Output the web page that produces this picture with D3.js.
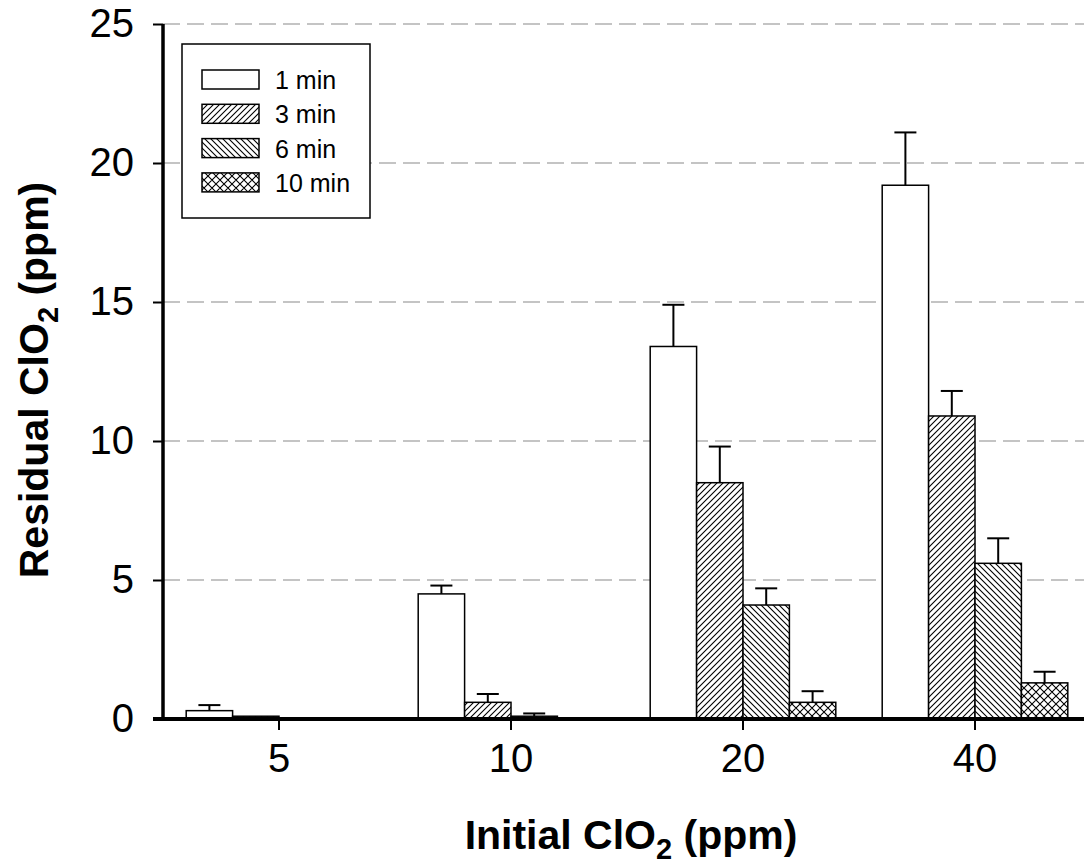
<!DOCTYPE html>
<html>
<head>
<meta charset="utf-8">
<script src="https://cdn.jsdelivr.net/npm/d3@7"></script>
<style>
  html, body { margin: 0; padding: 0; background: #fff; }
  svg { display: block; }
  text { font-family: Arial, "Liberation Sans", sans-serif; fill: #000; }
</style>
</head>
<body>
<svg id="chart" width="1084" height="867"></svg>
<script>
// Initial ClO2 concentrations (ppm) on the x axis
const groups = ["5", "10", "20", "40"];
// Contact times, one bar per time in each group
const times = ["1 min", "3 min", "6 min", "10 min"];
// Residual ClO2 (ppm), mean per contact time
const res1min  = [0.3, 4.5, 13.4, 19.2];
const res3min  = [0.1, 0.6, 8.5, 10.9];
const res6min  = [0.0, 0.1, 4.1, 5.6];
const res10min = [0.0, 0.0, 0.6, 1.3];
// Upper error (standard deviation) per contact time
const err1min  = [0.2, 0.3, 1.5, 1.9];
const err3min  = [0.0, 0.3, 1.3, 0.9];
const err6min  = [0.0, 0.1, 0.6, 0.9];
const err10min = [0.0, 0.0, 0.4, 0.4];
const yTicks = [0, 5, 10, 15, 20, 25];

const values = [res1min, res3min, res6min, res10min];
const errors = [err1min, err3min, err6min, err10min];
const fills = ["#fff", "url(#hatchFwd)", "url(#hatchBack)", "url(#hatchCross)"];

const rows = [];
groups.forEach((g, gi) => {
  times.forEach((t, ti) => {
    rows.push({ group: g, time: t, value: values[ti][gi], err: errors[ti][gi], fill: fills[ti] });
  });
});

const svg = d3.select("#chart");
const plotL = 163, plotR = 1091, plotT = 24, plotB = 719;

const x0 = d3.scaleBand().domain(groups).range([plotL, plotR]).paddingInner(0).paddingOuter(0);
const x1 = d3.scaleBand().domain(times).range([0, x0.bandwidth()]).paddingInner(0).paddingOuter(0.5);
const y = d3.scaleLinear().domain([0, 25]).range([plotB, plotT]);

// hatch patterns
const defs = svg.append("defs");
function hatch(id, size, paths) {
  const p = defs.append("pattern").attr("id", id).attr("patternUnits", "userSpaceOnUse")
    .attr("width", size).attr("height", size);
  p.append("rect").attr("width", size).attr("height", size).attr("fill", "#fff");
  p.append("path").attr("d", paths).attr("stroke", "#000").attr("stroke-width", 1.1)
    .attr("fill", "none");
}
hatch("hatchFwd", 6, "M-1,7 L7,-1 M-4,4 L4,-4 M2,10 L10,2");
hatch("hatchBack", 6, "M-1,-1 L7,7 M-4,2 L4,10 M2,-4 L10,4");
hatch("hatchCross", 8, "M0,0 L8,8 M-4,4 L4,12 M4,-4 L12,4 M0,8 L8,0 M-4,4 L4,-4 M4,12 L12,4");

// dashed horizontal grid
svg.append("g").selectAll("line")
  .data(yTicks.filter(d => d > 0))
  .join("line")
  .attr("x1", plotL).attr("x2", 1084)
  .attr("y1", d => y(d)).attr("y2", d => y(d))
  .attr("stroke", "#c4c4c4").attr("stroke-width", 2)
  .attr("stroke-dasharray", "17,7");

// bars
const bars = svg.append("g");
bars.selectAll("rect")
  .data(rows.filter(d => d.value > 0))
  .join("rect")
  .attr("x", d => x0(d.group) + x1(d.time))
  .attr("y", d => y(d.value))
  .attr("width", x1.bandwidth())
  .attr("height", d => y(0) - y(d.value))
  .attr("fill", d => d.fill)
  .attr("stroke", "#000").attr("stroke-width", 1.5);

// error bars (upper half)
const eb = svg.append("g").attr("stroke", "#000").attr("stroke-width", 2);
rows.filter(d => d.err > 0).forEach(d => {
  const cx = x0(d.group) + x1(d.time) + x1.bandwidth() / 2;
  eb.append("line").attr("x1", cx).attr("x2", cx).attr("y1", y(d.value)).attr("y2", y(d.value + d.err));
  eb.append("line").attr("x1", cx - 11).attr("x2", cx + 11).attr("y1", y(d.value + d.err)).attr("y2", y(d.value + d.err));
});

// y axis
const yAxis = svg.append("g").attr("transform", `translate(${plotL},0)`)
  .call(d3.axisLeft(y).tickValues(yTicks).tickSize(10).tickPadding(19).tickFormat(d3.format("d")));
yAxis.select(".domain").attr("stroke-width", 3.5).attr("d", `M0,${plotT}V${plotB + 1}`);
yAxis.selectAll(".tick line").attr("stroke-width", 2);
yAxis.selectAll(".tick text").attr("font-size", 40).attr("font-family", "Arial, 'Liberation Sans', sans-serif");

// x axis
const xAxis = svg.append("g").attr("transform", `translate(0,${plotB})`)
  .call(d3.axisBottom(x0).tickSize(11).tickPadding(14));
xAxis.select(".domain").attr("stroke-width", 4).attr("d", `M${plotL - 10},0H${plotR}`);
xAxis.selectAll(".tick line").attr("stroke-width", 2);
xAxis.selectAll(".tick text").attr("font-size", 40).attr("font-family", "Arial, 'Liberation Sans', sans-serif");

// axis titles
const xt = svg.append("text").attr("x", 631).attr("y", 849)
  .attr("text-anchor", "middle").attr("font-size", 41).attr("font-weight", "bold");
xt.append("tspan").text("Initial ClO");
xt.append("tspan").text("2").attr("font-size", 29).attr("dy", 10);
xt.append("tspan").text(" (ppm)").attr("dy", -10);

const yt = svg.append("text").attr("transform", "translate(48,380) rotate(-90)")
  .attr("text-anchor", "middle").attr("font-size", 41).attr("font-weight", "bold");
yt.append("tspan").text("Residual ClO");
yt.append("tspan").text("2").attr("font-size", 29).attr("dy", 10);
yt.append("tspan").text(" (ppm)").attr("dy", -10);

// legend
const lg = svg.append("g");
lg.append("rect").attr("x", 182).attr("y", 44).attr("width", 188).attr("height", 174)
  .attr("fill", "#fff").attr("stroke", "#000").attr("stroke-width", 1.5);
times.forEach((t, i) => {
  const ty = 70 + i * 34.3;
  lg.append("rect").attr("x", 202).attr("y", ty).attr("width", 57).attr("height", 19)
    .attr("fill", fills[i]).attr("stroke", "#000").attr("stroke-width", 1.5);
  lg.append("text").attr("x", 275).attr("y", ty + 19).attr("font-size", 25).text(t);
});
</script>
</body>
</html>
